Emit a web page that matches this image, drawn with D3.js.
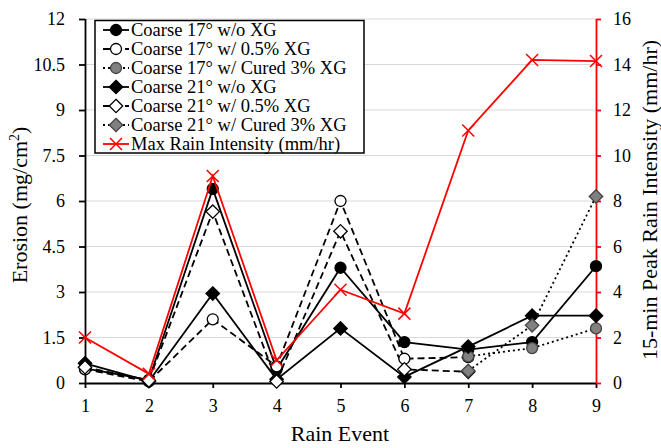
<!DOCTYPE html>
<html>
<head>
<meta charset="utf-8">
<script src="https://cdn.jsdelivr.net/npm/d3@7"></script>
<style>
  html, body { margin: 0; padding: 0; background: #fff; }
  svg { display: block; font-family: "Liberation Serif", "Times New Roman", serif; }
</style>
</head>
<body>
<svg id="chart" width="661" height="448"></svg>
<script>
// ---- data ----
const events = [1, 2, 3, 4, 5, 6, 7, 8, 9];
const c17_noXG   = [0.48, 0.10, 6.40, 0.45, 3.80, 1.35, 1.10, 1.35, 3.85];
const c17_05XG   = [0.45, 0.05, 2.10, 0.55, 6.00, 0.80, 0.85, null, null];
const c17_cured3 = [null, null, null, null, null, null, 0.88, 1.15, 1.80];
const c21_noXG   = [0.65, 0.06, 2.95, 0.12, 1.80, 0.20, 1.20, 2.22, 2.22];
const c21_05XG   = [0.52, 0.08, 5.65, 0.05, 5.00, 0.45, 0.37, null, null];
const c21_cured3 = [null, null, null, null, null, null, 0.40, 1.90, 6.15];
const rainIntensity = [2.0, 0.4, 9.1, 1.0, 4.1, 3.05, 11.1, 14.2, 14.15];
const leftTicks  = [0, 1.5, 3, 4.5, 6, 7.5, 9, 10.5, 12];
const rightTicks = [0, 2, 4, 6, 8, 10, 12, 14, 16];
const seriesNames = [
  "Coarse 17\u00B0 w/o XG",
  "Coarse 17\u00B0 w/ 0.5% XG",
  "Coarse 17\u00B0 w/ Cured 3% XG",
  "Coarse 21\u00B0 w/o XG",
  "Coarse 21\u00B0 w/ 0.5% XG",
  "Coarse 21\u00B0 w/ Cured 3% XG",
  "Max Rain Intensity (mm/hr)"
];
const xTitle = "Rain Event";
const yLeftTitle = "Erosion (mg/cm";
const yRightTitle = "15-min Peak Rain Intensity (mm/hr)";

// ---- styles ----
const styles = [
  { values: c17_noXG,   dash: null,  marker: "circle",  fill: "#000",    stroke: "#000" },
  { values: c17_05XG,   dash: "7,4", marker: "circle",  fill: "#fff",    stroke: "#000" },
  { values: c17_cured3, dash: "2,3", marker: "circle",  fill: "#808080", stroke: "#444" },
  { values: c21_noXG,   dash: null,  marker: "diamond", fill: "#000",    stroke: "#000" },
  { values: c21_05XG,   dash: "7,4", marker: "diamond", fill: "#fff",    stroke: "#000" },
  { values: c21_cured3, dash: "2,3", marker: "diamond", fill: "#808080", stroke: "#444" }
];

const svg = d3.select("#chart");
const L = 85, R = 596, T = 19, B = 383;

const x = d3.scaleLinear().domain([1, 9]).range([L, R]);
const yL = d3.scaleLinear().domain([0, 12]).range([B, T]);
const yR = d3.scaleLinear().domain([0, 16]).range([B, T]);

// gridlines
svg.append("g").selectAll("line").data(leftTicks.filter(d => d > 0)).join("line")
  .attr("x1", L).attr("x2", R)
  .attr("y1", d => yL(d)).attr("y2", d => yL(d))
  .attr("stroke", "#d9d9d9").attr("stroke-width", 1.2);

// axes
const fontTick = "18px";
const gx = svg.append("g").attr("transform", `translate(0,${B})`)
  .call(d3.axisBottom(x).tickValues(events).tickFormat(d3.format("d")).tickSize(5).tickPadding(11));
const gl = svg.append("g").attr("transform", `translate(${L},0)`)
  .call(d3.axisLeft(yL).tickValues(leftTicks).tickFormat(d => String(d)).tickSize(6).tickPadding(14));
const gr = svg.append("g").attr("transform", `translate(${R},0)`)
  .call(d3.axisRight(yR).tickValues(rightTicks).tickFormat(d => String(d)).tickSize(5).tickPadding(12));

[gx, gl, gr].forEach(g => {
  g.selectAll("text").attr("font-size", fontTick).attr("font-family", "Liberation Serif").attr("fill", "#000");
});
gx.selectAll("path, line").attr("stroke", "#000").attr("stroke-width", 1.8);
gl.selectAll("path, line").attr("stroke", "#000").attr("stroke-width", 1.8);
gr.selectAll("path, line").attr("stroke", "#ff0000").attr("stroke-width", 1.8);
gx.select("path").attr("d", `M${L},0.5H${R}`);
gl.select("path").attr("d", `M0.5,${B}V${T}`);
gr.select("path").attr("d", `M0.5,${B}V${T}`);

// markers
function drawMarker(g, type, cx, cy, fill, stroke, size) {
  if (type === "circle") {
    g.append("circle").attr("cx", cx).attr("cy", cy).attr("r", size)
      .attr("fill", fill).attr("stroke", stroke).attr("stroke-width", 1.3);
  } else if (type === "diamond") {
    const s = size + 1.2;
    g.append("path").attr("d", `M${cx},${cy - s}L${cx + s},${cy}L${cx},${cy + s}L${cx - s},${cy}Z`)
      .attr("fill", fill).attr("stroke", stroke).attr("stroke-width", 1.3);
  } else if (type === "x") {
    const s = size;
    g.append("path").attr("d", `M${cx - s},${cy - s}L${cx + s},${cy + s}M${cx - s},${cy + s}L${cx + s},${cy - s}`)
      .attr("stroke", stroke).attr("stroke-width", 1.5).attr("fill", "none");
  }
}

const line = d3.line().defined(d => d.v != null).x(d => x(d.e)).y(d => yL(d.v));
const plot = svg.append("g");
styles.forEach(s => {
  const pts = events.map((e, i) => ({ e, v: s.values[i] }));
  plot.append("path").datum(pts).attr("d", line)
    .attr("fill", "none").attr("stroke", "#000").attr("stroke-width", 1.8)
    .attr("stroke-dasharray", s.dash);
});
styles.forEach(s => {
  const g = plot.append("g");
  events.forEach((e, i) => {
    if (s.values[i] != null) drawMarker(g, s.marker, x(e), yL(s.values[i]), s.fill, s.stroke, 5.5);
  });
});
// rain intensity
const rainLine = d3.line().x((d, i) => x(events[i])).y(d => yR(d));
plot.append("path").datum(rainIntensity).attr("d", rainLine)
  .attr("fill", "none").attr("stroke", "#ff0000").attr("stroke-width", 1.8);
const rg = plot.append("g");
rainIntensity.forEach((v, i) => drawMarker(rg, "x", x(events[i]), yR(v), "none", "#ff0000", 6));

// titles
svg.append("text").attr("x", 340).attr("y", 441).attr("text-anchor", "middle")
  .attr("font-size", "22px").text(xTitle);
const lt = svg.append("text").attr("transform", "translate(27,205) rotate(-90)")
  .attr("text-anchor", "middle").attr("font-size", "22px");
lt.append("tspan").text(yLeftTitle);
lt.append("tspan").attr("font-size", "14px").attr("dy", "-8").text("2");
lt.append("tspan").attr("dy", "8").text(")");
svg.append("text").attr("transform", "translate(657,200) rotate(-90)")
  .attr("text-anchor", "middle").attr("font-size", "22px").text(yRightTitle);

// legend
const lg = svg.append("g");
lg.append("rect").attr("x", 95).attr("y", 20.5).attr("width", 269).attr("height", 132.5)
  .attr("fill", "#fff").attr("stroke", "#000").attr("stroke-width", 1.5);
const legendItems = styles.concat([{ dash: null, marker: "x", fill: "none", stroke: "#ff0000", red: true }]);
legendItems.forEach((s, i) => {
  const cy = 30 + i * 19;
  const row = lg.append("g");
  row.append("line").attr("x1", 103).attr("x2", 129).attr("y1", cy).attr("y2", cy)
    .attr("stroke", s.red ? "#ff0000" : "#000").attr("stroke-width", 1.8)
    .attr("stroke-dasharray", s.dash);
  drawMarker(row, s.marker, 116, cy, s.fill, s.stroke, s.red ? 6 : 5.5);
  row.append("text").attr("x", 131).attr("y", cy).attr("dy", "0.35em")
    .attr("font-size", "18.5px").text(seriesNames[i]);
});
</script>
</body>
</html>
